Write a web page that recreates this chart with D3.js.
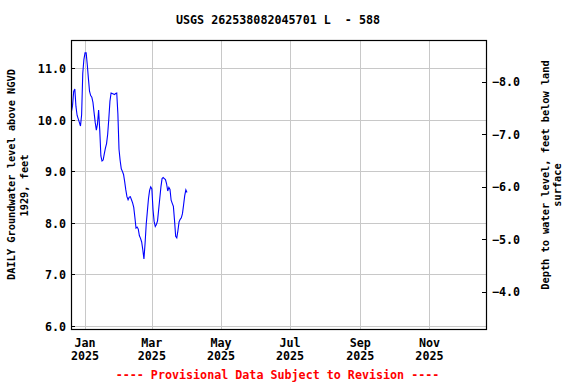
<!DOCTYPE html>
<html><head><meta charset="utf-8">
<script src="https://cdn.jsdelivr.net/npm/d3@7"></script>
<style>body{margin:0;background:#fff;} svg{display:block;} text{font-family:"DejaVu Sans Mono",monospace;font-weight:bold;white-space:pre;}</style>
</head><body>
<script>
const startDate = "2024-12-20";
const levels = [10.16,10.28,10.55,10.60,10.26,10.09,10.02,9.95,9.88,10.10,10.90,11.17,11.30,11.30,11.07,10.80,10.55,10.47,10.44,10.34,10.14,9.95,9.80,9.92,10.19,9.80,9.30,9.20,9.22,9.34,9.45,9.54,9.72,10.02,10.36,10.52,10.51,10.50,10.49,10.51,10.52,10.12,9.43,9.21,9.05,9.00,8.94,8.80,8.64,8.51,8.45,8.50,8.51,8.45,8.39,8.30,8.11,7.90,7.92,7.88,7.75,7.70,7.63,7.48,7.30,7.60,7.97,8.22,8.47,8.63,8.70,8.66,8.26,8.03,7.93,7.97,8.04,8.26,8.48,8.70,8.86,8.88,8.86,8.84,8.76,8.62,8.69,8.65,8.44,8.38,8.32,8.05,7.74,7.71,7.85,8.02,8.07,8.10,8.18,8.35,8.53,8.64,8.59];
const leftTicks = [6,7,8,9,10,11];
const rightTicks = [-8,-7,-6,-5,-4];
const monthTicks = ["2025-01-01","2025-03-01","2025-05-01","2025-07-01","2025-09-01","2025-11-01"];
const monthLabels = ["Jan","Mar","May","Jul","Sep","Nov"];
const yearLabels = ["2025","2025","2025","2025","2025","2025"];
const titleText = "USGS 262538082045701 L  - 588";
const leftTitle = ["DAILY Groundwater level above NGVD","1929, feet"];
const rightTitle = ["Depth to water level, feet below land","surface"];
const footer = "---- Provisional Data Subject to Revision ----";

const W=576,H=384, L=71, R=486, T=40, B=329;
const svg=d3.select("body").append("svg").attr("width",W).attr("height",H);
const parse=d3.utcParse("%Y-%m-%d");
const t0=parse(startDate);
const data=levels.map((v,i)=>({d:d3.utcDay.offset(t0,i),v}));
const x=d3.scaleUtc().domain([new Date(Date.UTC(2024,11,19,15)),new Date(Date.UTC(2025,11,20,22))]).range([L,R]);
const y=d3.scaleLinear().domain([5.942,11.549]).range([B,T]);
const y2=d3.scaleLinear().domain([-3.296,-8.793]).range([B,T]);

const grid=svg.append("g").attr("stroke","#c8c8c8").attr("stroke-width",1);
leftTicks.forEach(t=>grid.append("line").attr("x1",L).attr("x2",R).attr("y1",Math.round(y(t))+0.5).attr("y2",Math.round(y(t))+0.5));
monthTicks.forEach(m=>grid.append("line").attr("y1",T).attr("y2",B).attr("x1",Math.round(x(parse(m)))+0.5).attr("x2",Math.round(x(parse(m)))+0.5));

const line=d3.line().x(d=>x(d.d)).y(d=>y(d.v)).curve(d3.curveStepAfter);
svg.append("path").datum(data).attr("d",d3.line().x(d=>x(d.d)).y(d=>y(d.v))).attr("fill","none").attr("stroke","#0000ff").attr("stroke-width",1.1);

svg.append("rect").attr("x",L+0.5).attr("y",T+0.5).attr("width",R-L).attr("height",B-T).attr("fill","none").attr("stroke","#000").attr("stroke-width",1.2);

// left axis
const la=svg.append("g");
leftTicks.forEach(t=>{
  la.append("line").attr("x1",L).attr("x2",L+4).attr("y1",Math.round(y(t))+0.5).attr("y2",Math.round(y(t))+0.5).attr("stroke","#000");
  la.append("text").attr("x",66).attr("y",y(t)+5).attr("text-anchor","end").attr("font-size","11.7px").text(d3.format(".1f")(t));
});
// right axis
rightTicks.forEach(t=>{
  la.append("line").attr("x1",R-4).attr("x2",R).attr("y1",Math.round(y2(t))+0.5).attr("y2",Math.round(y2(t))+0.5).attr("stroke","#000");
  la.append("text").attr("x",492).attr("y",y2(t)+4.5).attr("text-anchor","start").attr("font-size","11.7px").text(d3.format(".1f")(t).replace("-","-"));
});
// bottom labels
monthTicks.forEach((m,i)=>{
  const xx=x(parse(m));
  la.append("text").attr("x",xx).attr("y",347).attr("text-anchor","middle").attr("font-size","11.7px").text(monthLabels[i]);
  la.append("text").attr("x",xx).attr("y",360).attr("text-anchor","middle").attr("font-size","11.7px").text(yearLabels[i]);
});
svg.append("text").attr("x",278).attr("y",24).attr("text-anchor","middle").attr("font-size","11.7px").text(titleText);
svg.append("text").attr("transform","translate(15,174.5) rotate(-90)").attr("text-anchor","middle").attr("font-size","10.3px").text(leftTitle[0]);
svg.append("text").attr("transform","translate(28,185.5) rotate(-90)").attr("text-anchor","middle").attr("font-size","10.3px").text(leftTitle[1]);
svg.append("text").attr("transform","translate(549,175) rotate(-90)").attr("text-anchor","middle").attr("font-size","10.3px").text(rightTitle[0]);
svg.append("text").attr("transform","translate(561,185) rotate(-90)").attr("text-anchor","middle").attr("font-size","10.3px").text(rightTitle[1]);
svg.append("text").attr("x",277.5).attr("y",378.5).attr("text-anchor","middle").attr("font-size","11.7px").attr("fill","#ff0000").text(footer);
</script>
</body></html>
